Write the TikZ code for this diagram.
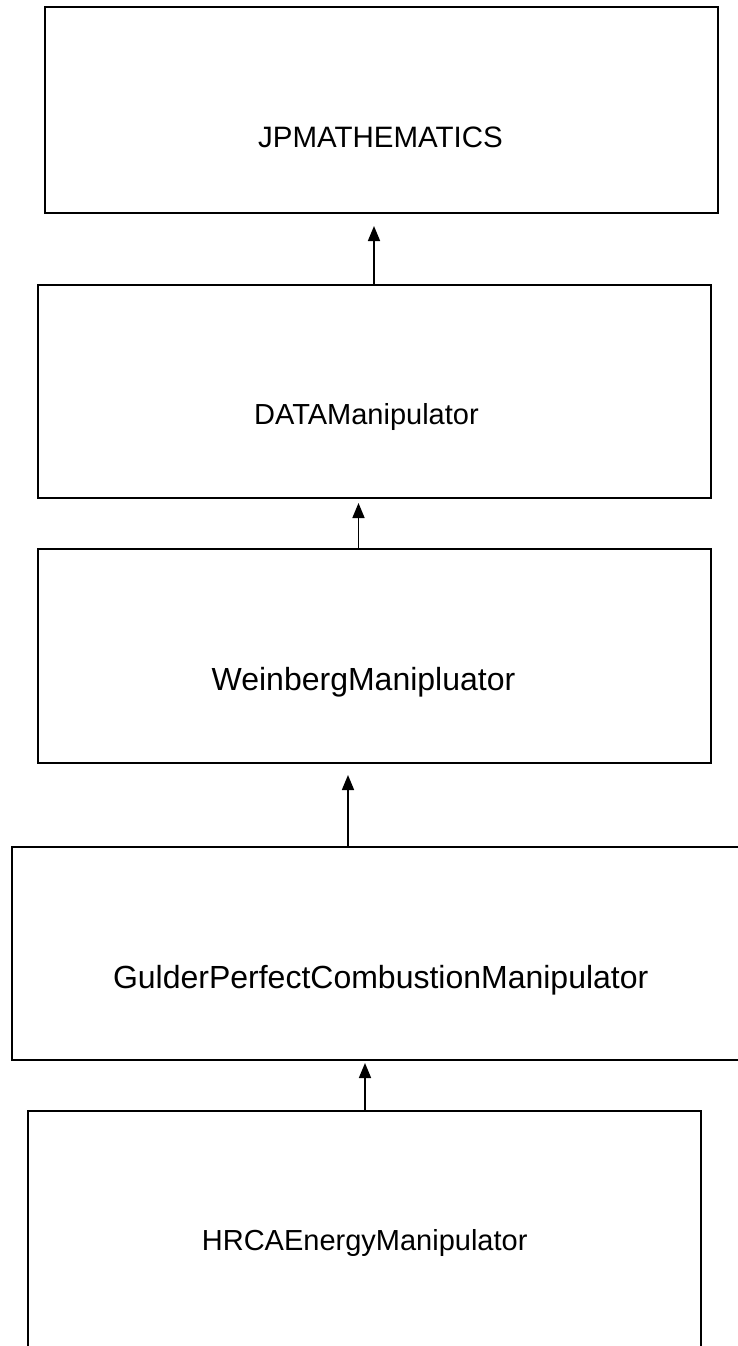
\documentclass[tikz,border=0pt]{standalone}
\usepackage{fontspec}
\setmainfont{Liberation Sans}
\usetikzlibrary{arrows.meta}
\begin{document}
\begin{tikzpicture}[x=1pt,y=-1pt,
  box/.style={draw, line width=2pt, rectangle, inner sep=0pt, outer sep=0pt},
  lbl/.style={anchor=base, inner sep=0pt, outer sep=0pt},
  arr/.style={-{Triangle[length=15pt,width=12pt]}, line width=1.6pt}]
\useasboundingbox (0,0) rectangle (738,1346);
\clip (0,0) rectangle (738,1346);
% boxes
\node[box, minimum width=673pt, minimum height=206pt] (b1) at (381,110) {};
\node[box, minimum width=673pt, minimum height=213pt] (b2) at (374.1,391.5) {};
\node[box, minimum width=673.4pt, minimum height=214pt] (b3) at (374.3,656) {};
\node[box, minimum width=732.7pt, minimum height=213pt] (b4) at (378.65,953.5) {};
\node[box, minimum width=673pt, minimum height=259pt] (b5) at (364.5,1240.5) {};
% labels
\node[lbl] (t1) at (380.5,147) {\fontsize{29.5}{34}\selectfont JPMATHEMATICS};
\node[lbl] (t2) at (366.4,424) {\fontsize{29}{34}\selectfont DATAManipulator};
\node[lbl] (t3) at (363.5,690.7) {\fontsize{32}{38}\selectfont WeinbergManipluator};
\node[lbl] (t4) at (380.7,988) {\fontsize{32}{38}\selectfont GulderPerfectCombustionManipulator};
\node[lbl] (t5) at (364.7,1250) {\fontsize{29}{34}\selectfont HRCAEnergyManipulator};
% arrow columns
\coordinate (c1) at (374,0);
\coordinate (c2) at (358.5,0);
\coordinate (c3) at (348,0);
\coordinate (c4) at (365,0);
\draw[arr, shorten >=13pt] (b2.north -| c1) -- (b1.south -| c1);
\draw[arr, shorten >=5pt] (b3.north -| c2) -- (b2.south -| c2);
\draw[arr, shorten >=12pt] (b4.north -| c3) -- (b3.south -| c3);
\draw[arr, shorten >=3pt] (b5.north -| c4) -- (b4.south -| c4);
\end{tikzpicture}
\end{document}
